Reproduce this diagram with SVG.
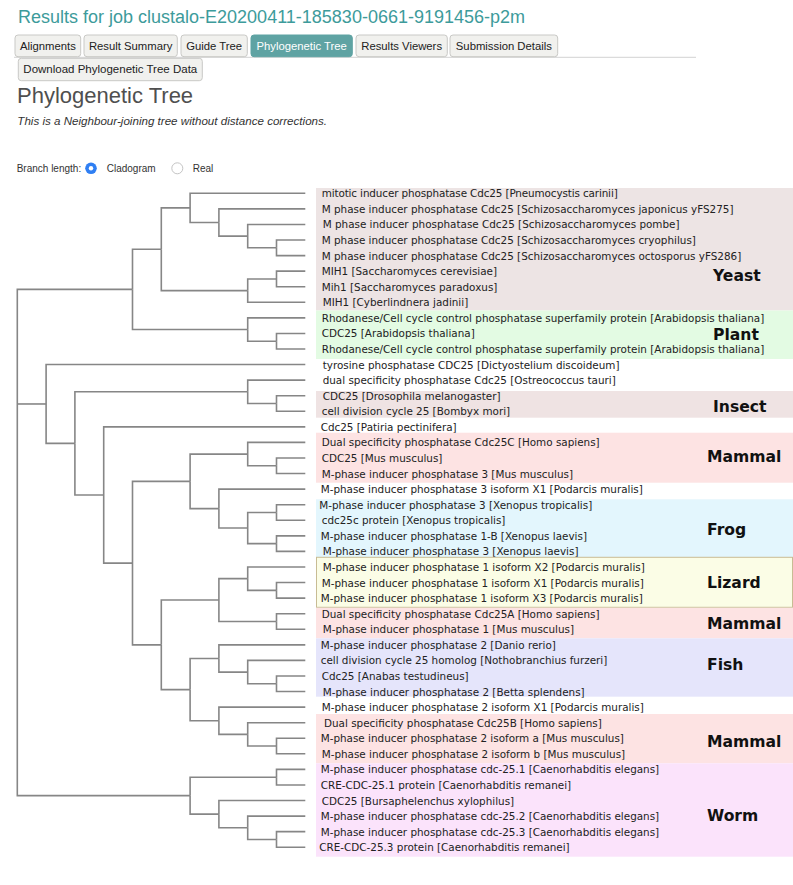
<svg xmlns="http://www.w3.org/2000/svg" width="793" height="885" viewBox="0 0 793 885">
<style>
.ui{font-family:"Liberation Sans",Arial,Helvetica,sans-serif}
.title{font-size:18px;fill:#3d9b9b}
.tab rect{fill:#f1f1ee;stroke:#c9c9c6;stroke-width:1}
.tab text{font-size:11.3px;fill:#222;text-anchor:middle}
.tab.active rect{fill:#5fa3a3;stroke:#5fa3a3}
.tab.active text{fill:#fff}
.h1{font-size:22px;fill:#4f4f4f}
.note{font-size:11.6px;font-style:italic;fill:#333}
.small{font-size:10px;fill:#333}
.link{fill:none;stroke:#868686;stroke-width:1.6}
.lbl{font-family:"DejaVu Sans",Verdana,sans-serif;font-size:10.4px;fill:#222}
.grp{font-family:"DejaVu Sans",Verdana,sans-serif;font-size:15.6px;font-weight:bold;fill:#111}
</style>

<g id="header" class="ui">
  <text class="title" x="18" y="23">Results for job clustalo-E20200411-185830-0661-9191456-p2m</text>
  <line x1="14" y1="57.3" x2="696" y2="57.3" stroke="#d2d2d2" stroke-width="1"/>
  <g class="tab"><rect x="15" y="35" width="65.7" height="21.7" rx="3"/><text x="47.85" y="49.5">Alignments</text></g>
  <g class="tab"><rect x="84" y="35" width="93.3" height="21.7" rx="3"/><text x="130.65" y="49.5">Result Summary</text></g>
  <g class="tab"><rect x="181" y="35" width="66.3" height="21.7" rx="3"/><text x="214.15" y="49.5">Guide Tree</text></g>
  <g class="tab active"><rect x="251" y="35" width="101.3" height="21.7" rx="3"/><text x="301.65" y="49.5">Phylogenetic Tree</text></g>
  <g class="tab"><rect x="356" y="35" width="91.3" height="21.7" rx="3"/><text x="401.65" y="49.5">Results Viewers</text></g>
  <g class="tab"><rect x="450" y="35" width="107.7" height="21.7" rx="3"/><text x="503.85" y="49.5">Submission Details</text></g>
  <g class="tab"><rect x="18.3" y="58.3" width="184" height="22.4" rx="3"/><text x="110.3" y="73" style="font-size:11.5px">Download Phylogenetic Tree Data</text></g>
  <text class="h1" x="17" y="103">Phylogenetic Tree</text>
  <text class="note" x="17.3" y="125">This is a Neighbour-joining tree without distance corrections.</text>
  <text class="small" x="16.7" y="171.7">Branch length:</text>
  <circle cx="91" cy="168.3" r="5.8" fill="#2f7ff3"/>
  <circle cx="91" cy="168.3" r="2.2" fill="#fff"/>
  <text class="small" x="106.7" y="171.7">Cladogram</text>
  <circle cx="177.3" cy="168.3" r="5.5" fill="#fff" stroke="#c4c4c4" stroke-width="1"/>
  <text class="small" x="192.7" y="171.7">Real</text>
</g>

<g id="clades">
  <g id="clade-yeast"><rect x="316" y="188" width="477" height="122.5" fill="#ede4e4"/><text class="grp" x="713" y="281">Yeast</text></g>
  <g id="clade-plant"><rect x="316" y="310.5" width="477" height="48.5" fill="#e3fbe3"/><text class="grp" x="713" y="340">Plant</text></g>
  <g id="clade-insect"><rect x="316" y="391" width="477" height="26.7" fill="#efe3e3"/><text class="grp" x="713" y="412">Insect</text></g>
  <g id="clade-mammal-c"><rect x="316" y="432.7" width="477" height="50" fill="#fde3e3"/><text class="grp" x="707" y="462">Mammal</text></g>
  <g id="clade-frog"><rect x="316" y="499.3" width="477" height="57.7" fill="#e3f6fd"/><text class="grp" x="707" y="535">Frog</text></g>
  <g id="clade-lizard"><rect x="316.5" y="557.3" width="476" height="50" fill="#fbfde6" stroke="#c8bc94" stroke-width="1"/><text class="grp" x="707" y="588.3">Lizard</text></g>
  <g id="clade-mammal-a"><rect x="316" y="607.8" width="477" height="30.5" fill="#fde3e3"/><text class="grp" x="707" y="629.3">Mammal</text></g>
  <g id="clade-fish"><rect x="316" y="638.3" width="477" height="58.4" fill="#e5e5fb"/><text class="grp" x="707" y="670">Fish</text></g>
  <g id="clade-mammal-b"><rect x="316" y="714" width="477" height="49.3" fill="#fde3e3"/><text class="grp" x="707" y="747.3">Mammal</text></g>
  <g id="clade-worm"><rect x="316" y="763.3" width="477" height="93.4" fill="#fbe3fb"/><text class="grp" x="707" y="820.7">Worm</text></g>
</g>

<g id="connectors" class="link">
  <path d="M17.3,403.98V289.40H132.5"/>
  <path d="M17.3,403.98H46.1"/>
  <path d="M17.3,403.98V795.67H190.1"/>
  <path d="M132.5,289.40V249.26H161.3"/>
  <path d="M132.5,289.40V329.54H247.7"/>
  <path d="M161.3,249.26V207.90H190.1"/>
  <path d="M161.3,249.26V290.61H247.7"/>
  <path d="M190.1,207.90V193.30H305.3"/>
  <path d="M190.1,207.90V222.49H218.9"/>
  <path d="M218.9,222.49V208.87H305.3"/>
  <path d="M218.9,222.49V236.12H247.7"/>
  <path d="M247.7,236.12V224.44H305.3"/>
  <path d="M247.7,236.12V247.80H276.5"/>
  <path d="M276.5,247.80V240.01H305.3"/>
  <path d="M276.5,247.80V255.58H305.3"/>
  <path d="M247.7,290.61V278.94H276.5"/>
  <path d="M247.7,290.61V302.29H305.3"/>
  <path d="M276.5,278.94V271.15H305.3"/>
  <path d="M276.5,278.94V286.72H305.3"/>
  <path d="M247.7,329.54V317.86H305.3"/>
  <path d="M247.7,329.54V341.21H276.5"/>
  <path d="M276.5,341.21V333.43H305.3"/>
  <path d="M276.5,341.21V349.00H305.3"/>
  <path d="M46.1,403.98V364.57H305.3"/>
  <path d="M46.1,403.98V443.40H74.9"/>
  <path d="M74.9,443.40V391.82H247.7"/>
  <path d="M74.9,443.40V494.97H103.7"/>
  <path d="M247.7,391.82V380.14H305.3"/>
  <path d="M247.7,391.82V403.50H276.5"/>
  <path d="M276.5,403.50V395.71H305.3"/>
  <path d="M276.5,403.50V411.28H305.3"/>
  <path d="M103.7,494.97V426.85H305.3"/>
  <path d="M103.7,494.97V563.09H132.5"/>
  <path d="M132.5,563.09V481.35H190.1"/>
  <path d="M132.5,563.09V644.83H161.3"/>
  <path d="M190.1,481.35V454.10H247.7"/>
  <path d="M190.1,481.35V508.59H218.9"/>
  <path d="M247.7,454.10V442.42H305.3"/>
  <path d="M247.7,454.10V465.78H276.5"/>
  <path d="M276.5,465.78V457.99H305.3"/>
  <path d="M276.5,465.78V473.56H305.3"/>
  <path d="M218.9,508.59V489.13H305.3"/>
  <path d="M218.9,508.59V528.06H247.7"/>
  <path d="M247.7,528.06V512.49H276.5"/>
  <path d="M247.7,528.06V543.63H276.5"/>
  <path d="M276.5,512.49V504.70H305.3"/>
  <path d="M276.5,512.49V520.27H305.3"/>
  <path d="M276.5,543.63V535.84H305.3"/>
  <path d="M276.5,543.63V551.41H305.3"/>
  <path d="M161.3,644.83V600.07H218.9"/>
  <path d="M161.3,644.83V689.59H190.1"/>
  <path d="M218.9,600.07V578.66H247.7"/>
  <path d="M218.9,600.07V621.48H276.5"/>
  <path d="M247.7,578.66V566.98H305.3"/>
  <path d="M247.7,578.66V590.34H276.5"/>
  <path d="M276.5,590.34V582.55H305.3"/>
  <path d="M276.5,590.34V598.12H305.3"/>
  <path d="M276.5,621.48V613.69H305.3"/>
  <path d="M276.5,621.48V629.26H305.3"/>
  <path d="M190.1,689.59V658.45H218.9"/>
  <path d="M190.1,689.59V720.74H218.9"/>
  <path d="M218.9,658.45V644.83H305.3"/>
  <path d="M218.9,658.45V672.08H247.7"/>
  <path d="M247.7,672.08V660.40H305.3"/>
  <path d="M247.7,672.08V683.76H276.5"/>
  <path d="M276.5,683.76V675.97H305.3"/>
  <path d="M276.5,683.76V691.54H305.3"/>
  <path d="M218.9,720.74V707.11H305.3"/>
  <path d="M218.9,720.74V734.36H247.7"/>
  <path d="M247.7,734.36V722.68H305.3"/>
  <path d="M247.7,734.36V746.04H276.5"/>
  <path d="M276.5,746.04V738.25H305.3"/>
  <path d="M276.5,746.04V753.82H305.3"/>
  <path d="M190.1,795.67V777.18H276.5"/>
  <path d="M190.1,795.67V814.15H218.9"/>
  <path d="M276.5,777.18V769.39H305.3"/>
  <path d="M276.5,777.18V784.96H305.3"/>
  <path d="M218.9,814.15V800.53H305.3"/>
  <path d="M218.9,814.15V827.78H247.7"/>
  <path d="M247.7,827.78V816.10H305.3"/>
  <path d="M247.7,827.78V839.46H276.5"/>
  <path d="M276.5,839.46V831.67H305.3"/>
  <path d="M276.5,839.46V847.24H305.3"/>
</g>

<g id="leaves" class="lbl">
  <g id="leaf-0"><text x="321.7" y="197.3" textLength="296" lengthAdjust="spacing">mitotic inducer phosphatase Cdc25 [Pneumocystis carinii]</text></g>
  <g id="leaf-1"><text x="321.7" y="212.9">M phase inducer phosphatase Cdc25 [Schizosaccharomyces japonicus yFS275]</text></g>
  <g id="leaf-2"><text x="322.7" y="228.4">M phase inducer phosphatase Cdc25 [Schizosaccharomyces pombe]</text></g>
  <g id="leaf-3"><text x="321.7" y="244">M phase inducer phosphatase Cdc25 [Schizosaccharomyces cryophilus]</text></g>
  <g id="leaf-4"><text x="321.7" y="259.6">M phase inducer phosphatase Cdc25 [Schizosaccharomyces octosporus yFS286]</text></g>
  <g id="leaf-5"><text x="321.7" y="275.2">MIH1 [Saccharomyces cerevisiae]</text></g>
  <g id="leaf-6"><text x="321.7" y="290.7">Mih1 [Saccharomyces paradoxus]</text></g>
  <g id="leaf-7"><text x="322.7" y="306.3">MIH1 [Cyberlindnera jadinii]</text></g>
  <g id="leaf-8"><text x="321.7" y="321.9">Rhodanese/Cell cycle control phosphatase superfamily protein [Arabidopsis thaliana]</text></g>
  <g id="leaf-9"><text x="321.7" y="337.4">CDC25 [Arabidopsis thaliana]</text></g>
  <g id="leaf-10"><text x="321.7" y="353">Rhodanese/Cell cycle control phosphatase superfamily protein [Arabidopsis thaliana]</text></g>
  <g id="leaf-11"><text x="322.7" y="368.6">tyrosine phosphatase CDC25 [Dictyostelium discoideum]</text></g>
  <g id="leaf-12"><text x="322.7" y="384.1">dual specificity phosphatase Cdc25 [Ostreococcus tauri]</text></g>
  <g id="leaf-13"><text x="322.7" y="399.7">CDC25 [Drosophila melanogaster]</text></g>
  <g id="leaf-14"><text x="321.7" y="415.3">cell division cycle 25 [Bombyx mori]</text></g>
  <g id="leaf-15"><text x="320.7" y="430.9">Cdc25 [Patiria pectinifera]</text></g>
  <g id="leaf-16"><text x="321.7" y="446.4">Dual specificity phosphatase Cdc25C [Homo sapiens]</text></g>
  <g id="leaf-17"><text x="321.7" y="462">CDC25 [Mus musculus]</text></g>
  <g id="leaf-18"><text x="321.7" y="477.6">M-phase inducer phosphatase 3 [Mus musculus]</text></g>
  <g id="leaf-19"><text x="320.7" y="493.1">M-phase inducer phosphatase 3 isoform X1 [Podarcis muralis]</text></g>
  <g id="leaf-20"><text x="319.3" y="508.7">M-phase inducer phosphatase 3 [Xenopus tropicalis]</text></g>
  <g id="leaf-21"><text x="321.7" y="524.3">cdc25c protein [Xenopus tropicalis]</text></g>
  <g id="leaf-22"><text x="320.7" y="539.8">M-phase inducer phosphatase 1-B [Xenopus laevis]</text></g>
  <g id="leaf-23"><text x="322.7" y="555.4">M-phase inducer phosphatase 3 [Xenopus laevis]</text></g>
  <g id="leaf-24"><text x="322.7" y="571">M-phase inducer phosphatase 1 isoform X2 [Podarcis muralis]</text></g>
  <g id="leaf-25"><text x="321.7" y="586.6">M-phase inducer phosphatase 1 isoform X1 [Podarcis muralis]</text></g>
  <g id="leaf-26"><text x="320.7" y="602.1">M-phase inducer phosphatase 1 isoform X3 [Podarcis muralis]</text></g>
  <g id="leaf-27"><text x="321.7" y="617.7">Dual specificity phosphatase Cdc25A [Homo sapiens]</text></g>
  <g id="leaf-28"><text x="322.7" y="633.3">M-phase inducer phosphatase 1 [Mus musculus]</text></g>
  <g id="leaf-29"><text x="320.7" y="648.8">M-phase inducer phosphatase 2 [Danio rerio]</text></g>
  <g id="leaf-30"><text x="320.7" y="664.4">cell division cycle 25 homolog [Nothobranchius furzeri]</text></g>
  <g id="leaf-31"><text x="321.7" y="680">Cdc25 [Anabas testudineus]</text></g>
  <g id="leaf-32"><text x="322.7" y="695.5">M-phase inducer phosphatase 2 [Betta splendens]</text></g>
  <g id="leaf-33"><text x="321.7" y="711.1">M-phase inducer phosphatase 2 isoform X1 [Podarcis muralis]</text></g>
  <g id="leaf-34"><text x="324" y="726.7">Dual specificity phosphatase Cdc25B [Homo sapiens]</text></g>
  <g id="leaf-35"><text x="320.7" y="742.3">M-phase inducer phosphatase 2 isoform a [Mus musculus]</text></g>
  <g id="leaf-36"><text x="321.7" y="757.8">M-phase inducer phosphatase 2 isoform b [Mus musculus]</text></g>
  <g id="leaf-37"><text x="320.7" y="773.4">M-phase inducer phosphatase cdc-25.1 [Caenorhabditis elegans]</text></g>
  <g id="leaf-38"><text x="320.7" y="789">CRE-CDC-25.1 protein [Caenorhabditis remanei]</text></g>
  <g id="leaf-39"><text x="321.7" y="804.5">CDC25 [Bursaphelenchus xylophilus]</text></g>
  <g id="leaf-40"><text x="320.7" y="820.1">M-phase inducer phosphatase cdc-25.2 [Caenorhabditis elegans]</text></g>
  <g id="leaf-41"><text x="320.7" y="835.7">M-phase inducer phosphatase cdc-25.3 [Caenorhabditis elegans]</text></g>
  <g id="leaf-42"><text x="319.3" y="851.2">CRE-CDC-25.3 protein [Caenorhabditis remanei]</text></g>
</g>
</svg>
